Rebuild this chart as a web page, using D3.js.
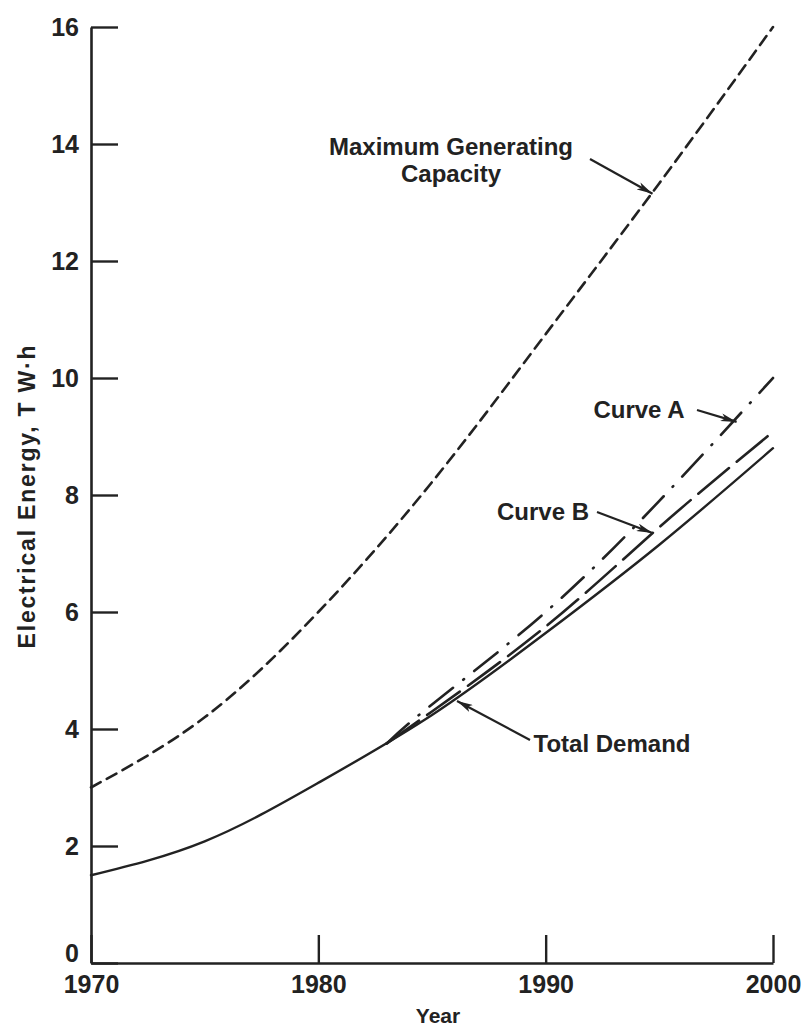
<!DOCTYPE html>
<html>
<head>
<meta charset="utf-8">
<script src="https://cdn.jsdelivr.net/npm/d3@7"></script>
<style>
  html, body { margin: 0; padding: 0; background: #fff; }
  svg { display: block; }
  text { font-family: "Liberation Sans", Arial, Helvetica, sans-serif; font-weight: bold; fill: #222; }
</style>
</head>
<body>
<svg id="chart" width="804" height="1027"></svg>
<script>
// Projected electrical energy, TW·h
const years = [1970, 1975, 1980, 1985, 1990, 1995, 2000];
const maxCapacity = [3.0, 4.2, 6.0, 8.22, 10.75, 13.33, 16.0];
const totalDemand = [1.5, 2.08, 3.08, 4.24, 5.64, 7.15, 8.8];

const branchYears = [1983, 1985, 1990, 1995, 2000];
const curveA = [3.75, 4.42, 6.0, 7.9, 10.0];
const curveB = [3.75, 4.3, 5.75, 7.45, 9.08];

const xTicks = [1970, 1980, 1990, 2000];
const yTicks = [0, 2, 4, 6, 8, 10, 12, 14, 16];

// Annotation labels: text lines, and the point on the curve the arrow touches
const notes = [
  { lines: ["Maximum Generating", "Capacity"], year: 1994.7, value: 13.15 },
  { lines: ["Curve A"], year: 1998.4, value: 9.25 },
  { lines: ["Curve B"], year: 1994.7, value: 7.35 },
  { lines: ["Total Demand"], year: 1986.1, value: 4.48 }
];

const svg = d3.select("#chart");
const ink = "#222";

const x = d3.scaleLinear().domain([1970, 2000]).range([91, 773]);
const y = d3.scaleLinear().domain([0, 16]).range([963, 27]);

// arrowhead
svg.append("defs").append("marker")
  .attr("id", "arrow")
  .attr("viewBox", "0 0 16 8")
  .attr("refX", 16).attr("refY", 4)
  .attr("markerWidth", 16).attr("markerHeight", 8)
  .attr("markerUnits", "userSpaceOnUse")
  .attr("orient", "auto")
  .append("path")
  .attr("d", "M0,0 L16,4 L0,8 L4,4 Z")
  .attr("fill", ink);

// Y axis: ticks point into the plot, labels on the left
const yAxis = svg.append("g")
  .attr("transform", `translate(${x(1970)},0)`)
  .call(d3.axisLeft(y).tickValues(yTicks).tickSizeInner(-27).tickSizeOuter(0).tickPadding(12)
    .tickFormat(d3.format("d")));
yAxis.selectAll("path.domain").attr("stroke", ink).attr("stroke-width", 2.6);
yAxis.selectAll(".tick line").attr("stroke", ink).attr("stroke-width", 2.4);
yAxis.selectAll(".tick text")
  .attr("font-size", 25).style("font-family", "'Liberation Sans', Arial, sans-serif")
  .style("font-weight", "bold").attr("fill", ink)
  .attr("dy", d => d === 0 ? "-0.05em" : "0.34em");

// X axis: ticks point up into the plot
const xAxis = svg.append("g")
  .attr("transform", `translate(0,${y(0)})`)
  .call(d3.axisBottom(x).tickValues(xTicks).tickSizeInner(-28).tickSizeOuter(0).tickPadding(12)
    .tickFormat(d3.format("d")));
xAxis.selectAll("path.domain").attr("stroke", ink).attr("stroke-width", 2.6);
xAxis.selectAll(".tick line").attr("stroke", ink).attr("stroke-width", 2.4);
xAxis.selectAll(".tick text")
  .attr("font-size", 25).style("font-family", "'Liberation Sans', Arial, sans-serif")
  .style("font-weight", "bold").attr("fill", ink)
  .attr("dy", "0.72em");

// axis titles
svg.append("text")
  .attr("x", 438).attr("y", 1023)
  .attr("text-anchor", "middle")
  .attr("font-size", 21)
  .text("Year");

svg.append("text")
  .attr("transform", `translate(35,496) rotate(-90)`)
  .attr("text-anchor", "middle")
  .attr("font-size", 23)
  .attr("letter-spacing", 1.8)
  .text("Electrical Energy, T W\u00B7h");

// curves
const line = d3.line()
  .x(d => x(d[0]))
  .y(d => y(d[1]))
  .curve(d3.curveNatural);

const series = [
  { xs: years, vs: maxCapacity, dash: "11 7", width: 2.6 },
  { xs: branchYears, vs: curveA, dash: "30 13 1 13", width: 2.6 },
  { xs: branchYears, vs: curveB, dash: "40 10", width: 2.6 },
  { xs: years, vs: totalDemand, dash: null, width: 2.4 }
];

svg.append("g").selectAll("path")
  .data(series)
  .join("path")
  .attr("d", s => line(s.xs.map((yr, i) => [yr, s.vs[i]])))
  .attr("fill", "none")
  .attr("stroke", ink)
  .attr("stroke-width", s => s.width)
  .attr("stroke-linecap", "round")
  .attr("stroke-dasharray", s => s.dash);

// annotation layout
const noteLayout = [
  { tx: 451, ty: 155, lineGap: 27, from: [590, 159] },
  { tx: 639, ty: 418, lineGap: 0, from: [697, 410] },
  { tx: 543, ty: 520, lineGap: 0, from: [597, 512] },
  { tx: 612, ty: 752, lineGap: 0, from: [530, 740] }
];

notes.forEach((n, i) => {
  const L = noteLayout[i];
  const t = svg.append("text")
    .attr("text-anchor", "middle")
    .attr("font-size", 24);
  n.lines.forEach((s, j) => {
    t.append("tspan").attr("x", L.tx).attr("y", L.ty + j * L.lineGap).text(s);
  });
  svg.append("line")
    .attr("x1", L.from[0]).attr("y1", L.from[1])
    .attr("x2", x(n.year)).attr("y2", y(n.value))
    .attr("stroke", ink).attr("stroke-width", 2.2)
    .attr("marker-end", "url(#arrow)");
});
</script>
</body>
</html>
